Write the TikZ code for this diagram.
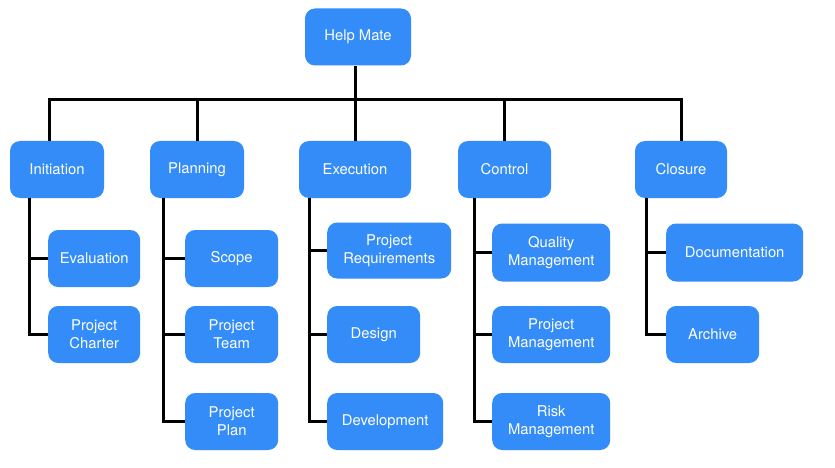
\documentclass[tikz,border=0pt]{standalone}
\usepackage{fontspec}
\setmainfont{TeX Gyre Heros}
\usetikzlibrary{positioning}
\definecolor{taskblue}{RGB}{51,140,247}

\begin{document}
\begin{tikzpicture}[x=1pt,y=-1pt,
    task/.style={rectangle,rounded corners=10pt,fill=taskblue,text=white,align=center,
        minimum height=57pt,inner sep=2pt,font=\fontsize{14.8}{18}\selectfont},
    link/.style={line width=3pt},
    elbow/.style={to path={|- (\tikztotarget)}}]

            \path[fill=white] (0,0) rectangle (835,468);

            \node[task,minimum width=106pt] (help) at (358,37) {Help Mate};

            % phases
            \node[task,minimum width=94pt] (init) at (57,169.5) {Initiation};

            \node[task,minimum width=94pt] (plan) at (197,169.5) {Planning};

            \node[task,minimum width=112pt] (exec) at (355,169.5) {Execution};

            \node[task,minimum width=93pt] (ctrl) at (504.5,169.5) {Control};

            \node[task,minimum width=92pt] (clos) at (681,169.5) {Closure};

            % work packages
            \node[task,anchor=west,minimum width=92pt] (eval) at (48,258.5) {Evaluation};

            \node[task,anchor=west,minimum width=92pt] (charter) at (48,334.5) {Project\\Charter};

            \node[task,anchor=west,minimum width=93pt] (scope) at (185,258.5) {Scope};

            \node[task,anchor=west,minimum width=93pt] (team) at (185,334.5) {Project\\Team};

            \node[task,anchor=west,minimum width=93pt] (pplan) at (185,421.5) {Project\\Plan};

            \node[task,anchor=west,minimum width=124pt,minimum height=56pt] (req) at (327,250.5) {Project\\Requirements};

            \node[task,anchor=west,minimum width=93pt] (design) at (327,334.5) {Design};

            \node[task,anchor=west,minimum width=116pt] (dev) at (327,421.5) {Development};

            \node[task,anchor=west,minimum width=118pt,minimum height=58pt] (qual) at (492,252.5) {Quality\\Management};

            \node[task,anchor=west,minimum width=118pt] (pmgmt) at (492,334.5) {Project\\Management};

            \node[task,anchor=west,minimum width=118pt] (risk) at (492,421.5) {Risk\\Management};

            \node[task,anchor=west,minimum width=137pt,minimum height=58pt] (doc) at (666,252.5) {Documentation};

            \node[task,anchor=west,minimum width=93pt] (arch) at (666,334.5) {Archive};

            % connectors
            \coordinate (bus) at (0,100);
            \coordinate (initN) at ([xshift=-8pt]init.north);
            \coordinate (initT) at ([xshift=20pt]init.south west);
            \coordinate (planT) at ([xshift=14pt]plan.south west);
            \coordinate (execT) at ([xshift=11pt]exec.south west);
            \coordinate (ctrlT) at ([xshift=17pt]ctrl.south west);
            \coordinate (closT) at ([xshift=12pt]clos.south west);

            \draw[link] (initN) |- (clos.north |- bus) -- (clos.north);

            \path[link] (exec.north) edge (exec.north |- help.south)
                        (plan.north |- bus) edge (plan.north)
                        (ctrl.north |- bus) edge (ctrl.north);

            \path[link] (initT) edge[elbow] (eval) edge[elbow] (charter)
                        (planT) edge[elbow] (scope) edge[elbow] (team) edge[elbow] (pplan)
                        (execT) edge[elbow] (req) edge[elbow] (design) edge[elbow] (dev)
                        (ctrlT) edge[elbow] (qual) edge[elbow] (pmgmt) edge[elbow] (risk)
                        (closT) edge[elbow] (doc) edge[elbow] (arch);

        \end{tikzpicture}
\end{document}
